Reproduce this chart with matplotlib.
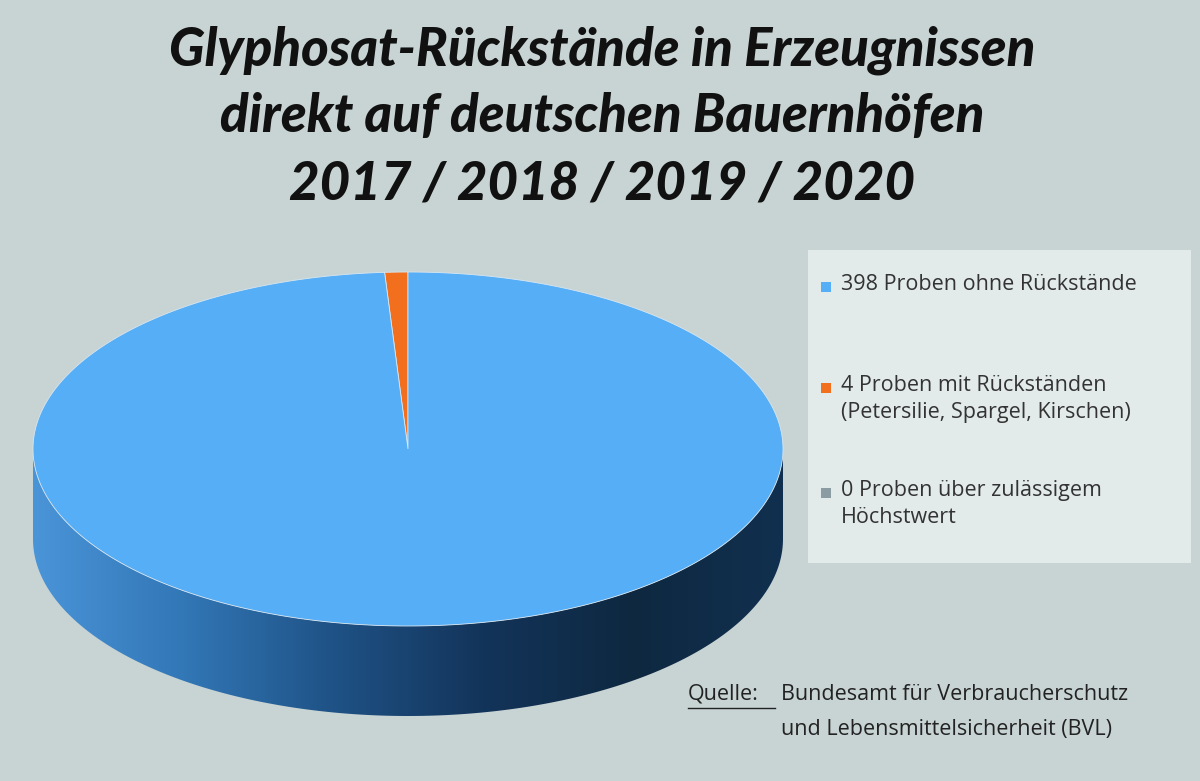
import numpy as np
import matplotlib
matplotlib.use("Agg")
import matplotlib.pyplot as plt
from matplotlib.patches import Polygon, Rectangle
from matplotlib.colors import LinearSegmentedColormap

categories = ["398 Proben ohne Rückstände",
              "4 Proben mit Rückständen\n(Petersilie, Spargel, Kirschen)",
              "0 Proben über zulässigem\nHöchstwert"]
values = [398, 4, 0]
colors = ["#55aef6", "#f26f1e", "#8c9ca3"]
title_lines = ["Glyphosat-Rückstände in Erzeugnissen",
               "direkt auf deutschen Bauernhöfen",
               "2017 / 2018 / 2019 / 2020"]

BG = "#c8d3d3"
fig = plt.figure(figsize=(12, 7.81), dpi=100, facecolor=BG)
ax = fig.add_axes([0, 0, 1, 1])
ax.set_xlim(0, 1200); ax.set_ylim(781, 0); ax.axis("off")
ax.set_facecolor(BG)

cx, cy, a, b, depth = 408, 449, 375, 177, 90

def pt(t, dy=0):
    return (cx + a*np.cos(t), cy + dy - b*np.sin(t))

ts = np.linspace(np.pi, 2*np.pi, 200)
top = [pt(t) for t in ts]
bot = [pt(t, depth) for t in ts[::-1]]
side = Polygon(top + bot, closed=True, facecolor="none", edgecolor="none")
ax.add_patch(side)
grad = np.linspace(0, 1, 256)[None, :]
cm = LinearSegmentedColormap.from_list("s", ["#4a94d8", "#3277b6", "#1f5286", "#13345a", "#0e2840", "#11304f"])
im = ax.imshow(grad, cmap=cm, extent=(cx-a, cx+a, cy+depth+b, cy-b), aspect="auto", zorder=1)
im.set_clip_path(side)
ax.set_xlim(0, 1200); ax.set_ylim(781, 0)

total = sum(values)
order = [1, 0, 2]
ang = np.pi/2
for i in order:
    sweep = 2*np.pi*values[i]/total
    if sweep <= 0:
        continue
    tt = np.linspace(ang, ang+sweep, max(3, int(400*sweep/(2*np.pi))))
    verts = [(cx, cy)] + [pt(t) for t in tt]
    ax.add_patch(Polygon(verts, closed=True, facecolor=colors[i],
                         edgecolor="#d8e6f0", linewidth=0.6, zorder=2))
    ang += sweep

for k, line in enumerate(title_lines):
    ax.text(602, 50 + k*67, line, ha="center", va="center", fontsize=38,
            fontweight="black", style="italic", family=["Lato", "DejaVu Sans"], color="#111111")

ax.add_patch(Rectangle((808, 250), 383, 313, facecolor="#e3eaea", edgecolor="none", zorder=3))
ys = [287, 388, 493]
fnt = ["Open Sans", "DejaVu Sans"]
for c, lab, y in zip(colors, categories, ys):
    ax.add_patch(Rectangle((821, y-5), 10, 10, facecolor=c, edgecolor="none", zorder=4))
    ax.text(841, y-13, lab, ha="left", va="top", fontsize=15.5, color="#333333",
            family=fnt, linespacing=1.35, zorder=4)

ax.text(688, 694, "Quelle:", ha="left", va="center", fontsize=15.5, color="#222222", family=fnt)
ax.plot([688, 775], [708, 708], color="#222222", lw=1)
ax.text(781, 694, "Bundesamt für Verbraucherschutz", ha="left", va="center", fontsize=15.5,
        color="#222222", family=fnt)
ax.text(781, 729, "und Lebensmittelsicherheit (BVL)", ha="left", va="center", fontsize=15.5,
        color="#222222", family=fnt)

fig.savefig("out.png", dpi=100, facecolor=BG)
